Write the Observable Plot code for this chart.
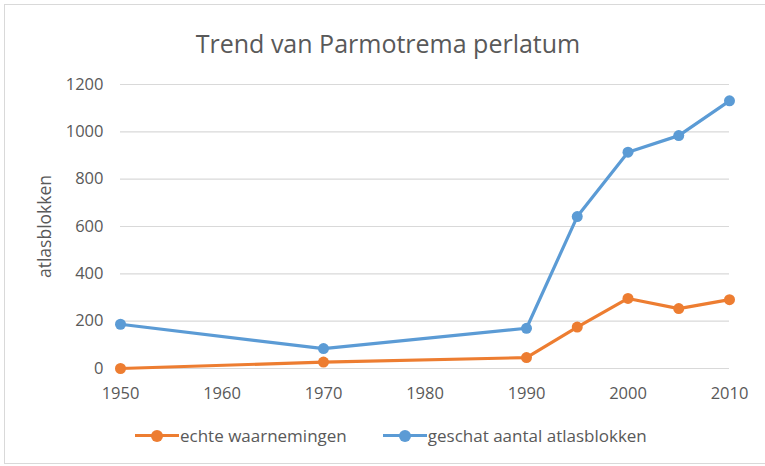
<!DOCTYPE html>
<html>
<head>
<meta charset="utf-8">
<script src="https://cdn.jsdelivr.net/npm/d3@7"></script>
<script src="https://cdn.jsdelivr.net/npm/@observablehq/plot@0.6"></script>
<style>
  html, body { margin: 0; padding: 0; background: #fff; }
  #wrap { position: relative; width: 765px; height: 466px; overflow: hidden; font-family: "Open Sans", "Noto Sans", sans-serif; color: #595959; }
  #frame { position: absolute; left: 4px; top: 4px; width: 770px; height: 460px; border: 1px solid #d9d9d9; box-sizing: border-box; }
  #chart { position: absolute; left: 0; top: 0; }
  #title { position: absolute; left: 0; width: 776px; top: 26px; text-align: center; font-size: 25px; line-height: 34px; }
  #legend { position: absolute; top: 424px; left: 135px; font-size: 17px; display: flex; align-items: center; white-space: nowrap; }
  .item { display: flex; align-items: center; }
  .sw { position: relative; width: 44px; height: 12px; margin-right: 1px; }
  .sw .ln { position: absolute; left: 0; right: 0; top: 4.5px; height: 3px; }
  .sw .dt { position: absolute; left: 16px; top: 0; width: 12px; height: 12px; border-radius: 6px; }
</style>
</head>
<body>
<div id="wrap">
  <div id="frame"></div>
  <div id="chart"></div>
  <div id="title">Trend van Parmotrema perlatum</div>
  <div id="legend"></div>
</div>
<script>
const years = [1950, 1970, 1990, 1995, 2000, 2005, 2010];
const echteWaarnemingen = [0, 27, 46, 175, 296, 253, 291];
const geschatAantal = [187, 84, 170, 642, 914, 984, 1131];
const seriesNames = ["echte waarnemingen", "geschat aantal atlasblokken"];
const seriesColors = ["#ED7D31", "#5B9BD5"];
const xTicks = [1950, 1960, 1970, 1980, 1990, 2000, 2010];
const yTicks = [0, 200, 400, 600, 800, 1000, 1200];

const rows = [];
years.forEach((y, i) => rows.push({year: y, value: echteWaarnemingen[i], series: seriesNames[0]}));
years.forEach((y, i) => rows.push({year: y, value: geschatAantal[i], series: seriesNames[1]}));

const plot = Plot.plot({
  width: 765,
  height: 466,
  marginLeft: 120,
  marginRight: 36,
  marginTop: 84,
  marginBottom: 98,
  style: {fontFamily: '"Open Sans", "Noto Sans", sans-serif', fontSize: "16.5px", color: "#595959", background: "transparent", overflow: "visible"},
  x: {domain: [1950, 2010]},
  y: {domain: [0, 1200]},
  color: {domain: seriesNames, range: seriesColors},
  marks: [
    Plot.ruleY(yTicks, {stroke: "#d9d9d9", strokeWidth: 1.2}),
    Plot.axisX({ticks: xTicks, tickFormat: d => String(d), tickSize: 0, tickPadding: 19, fontSize: 16.5, fill: "#595959", label: null}),
    Plot.axisY({ticks: yTicks, tickFormat: d => String(d), tickSize: 0, tickPadding: 17, fontSize: 16.5, fill: "#595959", label: null}),
    Plot.text(["atlasblokken"], {frameAnchor: "left", textAnchor: "middle", dx: -75, rotate: -90, fontSize: 17.5, fill: "#595959"}),
    Plot.line(rows, {x: "year", y: "value", z: "series", stroke: "series", strokeWidth: 3.2, strokeLinejoin: "round", strokeLinecap: "round"}),
    Plot.dot(rows, {x: "year", y: "value", fill: "series", r: 5.5})
  ]
});
document.getElementById("chart").appendChild(plot);

const legend = document.getElementById("legend");
seriesNames.forEach((name, i) => {
  const item = document.createElement("div");
  item.className = "item";
  if (i > 0) item.style.marginLeft = "36px";
  item.innerHTML = `<div class="sw"><div class="ln" style="background:${seriesColors[i]}"></div><div class="dt" style="background:${seriesColors[i]}"></div></div><span>${name}</span>`;
  legend.appendChild(item);
});
</script>
</body>
</html>
